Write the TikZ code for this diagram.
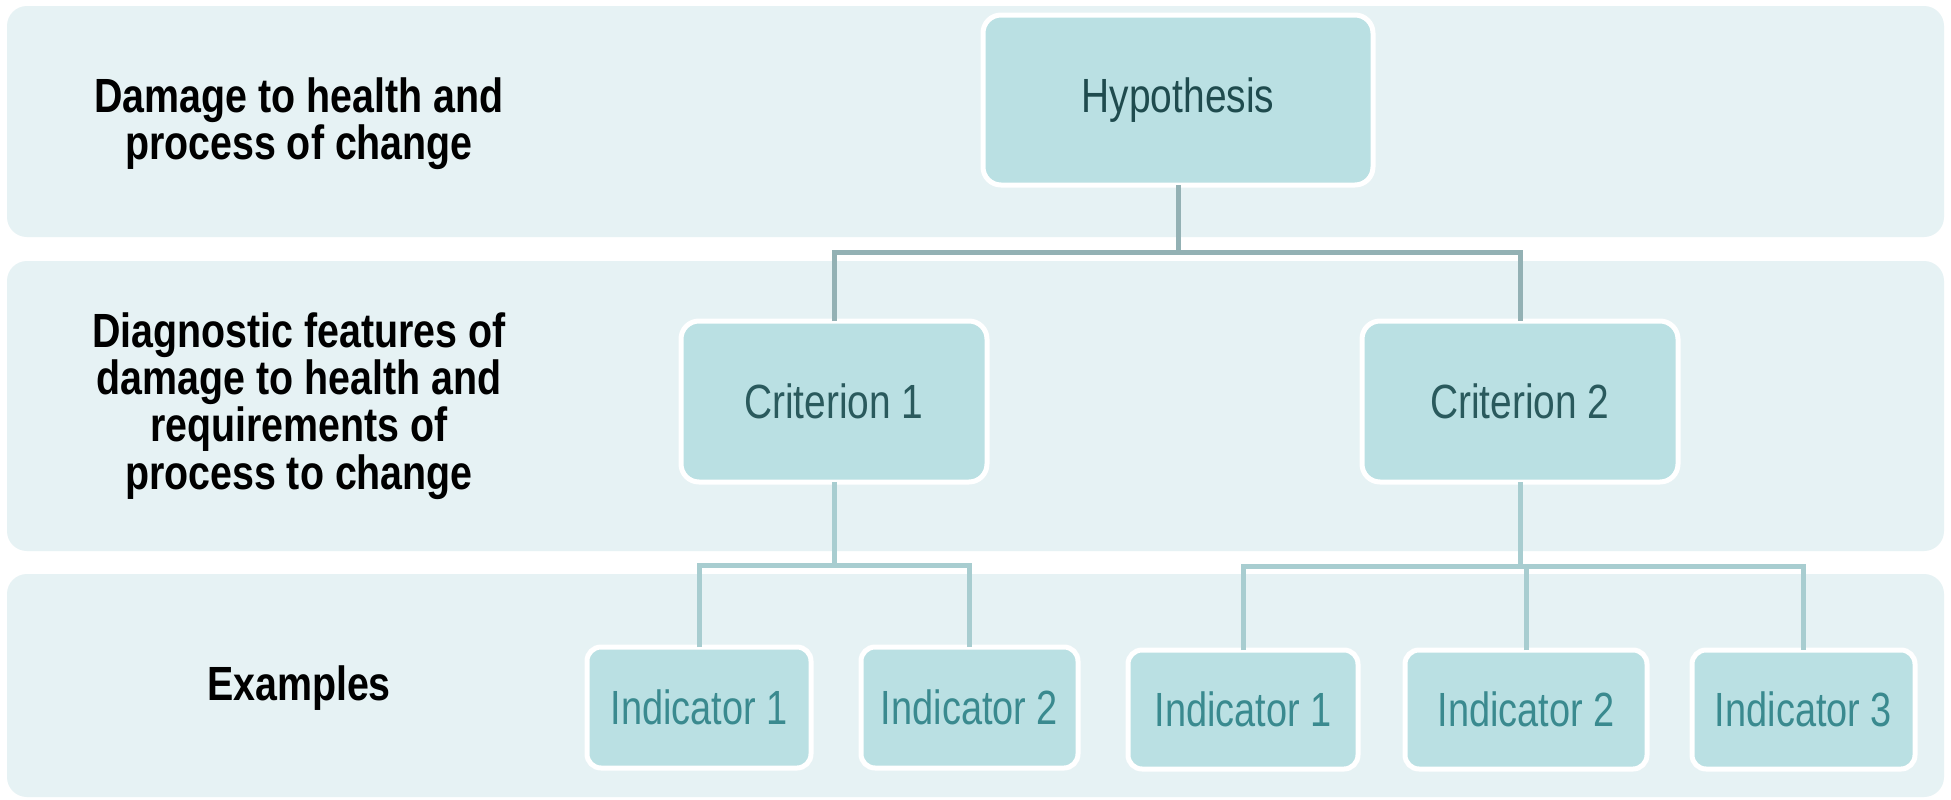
\documentclass[tikz,border=0pt]{standalone}
\usepackage{fontspec}
\setmainfont{Liberation Sans}[FakeStretch=0.79]
\newfontfamily\boxfont{Liberation Sans}[FakeStretch=0.81]
\newfontfamily\labfont{Liberation Sans}[FakeStretch=0.82]
\definecolor{bandfill}{HTML}{E6F2F4}
\definecolor{boxfill}{HTML}{BAE0E3}
\definecolor{darktext}{HTML}{1F4B4E}
\definecolor{crittext}{HTML}{2A5A5D}
\definecolor{indtext}{HTML}{3A8A8F}
\definecolor{connA}{HTML}{93B1B4}
\definecolor{connB}{HTML}{A8CDD0}
\tikzset{
  band/.style={fill=bandfill, draw=none, rounded corners=10pt},
  tbox/.style={fill=boxfill, draw=white, line width=2.5pt, rounded corners=9pt,
    inner sep=0pt, font=\boxfont\fontsize{24}{28}\selectfont, text=darktext, outer sep=0pt},
  indbox/.style={tbox, rounded corners=7pt, text=indtext, font=\fontsize{24}{28}\selectfont},
  critbox/.style={tbox, text=crittext},
  lab/.style={align=center, font=\labfont\bfseries\fontsize{24}{23.6}\selectfont, text=black},
  connup/.style={draw=connA, line width=2.5pt},
  connlo/.style={draw=connB, line width=2.5pt},
}
\begin{document}
\begin{tikzpicture}[x=0.5pt, y=-0.5pt]
\useasboundingbox (0,0) rectangle (1951,799);
\fill[white] (0,0) rectangle (1951,799);
% bands
\path[band] (7,6) rectangle (1944,237);
\path[band] (7,261) rectangle (1944,551);
\path[band] (7,574) rectangle (1944,797);
% labels
\node[lab] (l1) at (299,124) {Damage to health and\\process of change};
\node[lab] (l2) at (299,406) {Diagnostic features of\\damage to health and\\requirements of\\process to change};
\node[lab] (l3) at (299,688) {Examples};
% boxes
\node[tbox, minimum width=195pt, minimum height=85pt] (hyp) at (1178,100) {\raisebox{-1.5pt}{Hypothesis}};
\node[critbox, minimum width=153pt, minimum height=80.5pt] (c1) at (834,401.5) {Criterion 1};
\node[critbox, minimum width=158pt, minimum height=80.5pt] (c2) at (1520,401.5) {Criterion 2};
\node[indbox, minimum width=112pt, minimum height=60.5pt] (i11) at (699,707.5) {Indicator 1};
\node[indbox, minimum width=108.5pt, minimum height=60.5pt] (i12) at (969.5,707.5) {Indicator 2};
\node[indbox, minimum width=115pt, minimum height=59.5pt] (i21) at (1243,709.5) {Indicator 1};
\node[indbox, minimum width=121pt, minimum height=59.5pt] (i22) at (1526,709.5) {Indicator 2};
\node[indbox, minimum width=111.5pt, minimum height=59.5pt] (i23) at (1803.5,709.5) {Indicator 3};
% bus coordinates
\coordinate (bus1) at (1178,252);
\coordinate (bus2) at (834,565);
\coordinate (bus3) at (1520,566);
% connectors
\draw[connup] (hyp.south) -- (bus1);
\draw[connup] (c1.north) |- (bus1) -| (c2.north);
\draw[connlo] (c1.south) -- (bus2);
\draw[connlo] (i11.north) |- (bus2) -| (i12.north);
\draw[connlo] (c2.south) -- (bus3);
\draw[connlo] (i21.north) |- (bus3) -| (i23.north);
\draw[connlo] (i22.north) -- (i22.north |- bus3);
\end{tikzpicture}
\end{document}
